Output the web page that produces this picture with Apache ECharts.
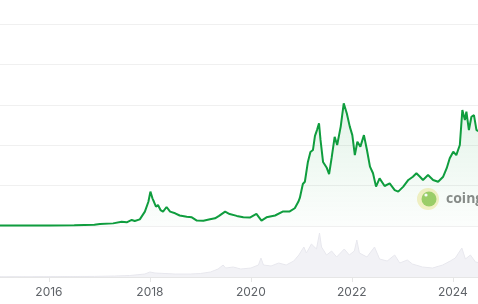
<!DOCTYPE html>
<html>
<head>
<meta charset="utf-8">
<script src="https://cdn.jsdelivr.net/npm/echarts@6/dist/echarts.min.js"></script>
<style>
html,body{margin:0;padding:0;background:#fff;}
#c{width:478px;height:304px;}
</style>
</head>
<body>
<div id="c"></div>
<script>
// x positions as decimal years
var priceYears = [2015.03,2015.5,2016.0,2016.5,2016.9,2017.01,2017.27,2017.44,2017.54,2017.64,2017.70,2017.80,2017.90,2017.97,2018.01,2018.05,2018.08,2018.12,2018.16,2018.21,2018.26,2018.33,2018.40,2018.50,2018.59,2018.73,2018.83,2018.93,2019.06,2019.19,2019.29,2019.37,2019.49,2019.58,2019.72,2019.85,2019.98,2020.11,2020.21,2020.31,2020.48,2020.64,2020.77,2020.87,2020.94,2020.97,2021.03,2021.07,2021.13,2021.18,2021.23,2021.27,2021.31,2021.35,2021.38,2021.43,2021.50,2021.55,2021.60,2021.66,2021.71,2021.78,2021.84,2021.90,2021.96,2022.01,2022.06,2022.11,2022.17,2022.24,2022.30,2022.36,2022.42,2022.48,2022.55,2022.65,2022.75,2022.85,2022.92,2023.02,2023.12,2023.21,2023.28,2023.35,2023.41,2023.51,2023.61,2023.71,2023.81,2023.88,2023.94,2024.01,2024.07,2024.14,2024.19,2024.24,2024.27,2024.32,2024.37,2024.42,2024.47,2024.50,2024.55];
// price values (thousands)
var priceValues = [0.25,0.25,0.3,0.35,0.6,1.0,1.3,2.1,1.8,3.0,2.5,3.3,7.1,12.0,17.0,13.7,12.0,9.6,10.4,7.9,7.1,9.4,7.1,6.3,5.2,4.6,4.3,2.7,2.6,3.3,3.8,5.0,7.1,5.9,5.0,4.3,4.2,6.0,2.7,4.3,5.2,7.2,7.2,8.8,12.0,13.9,20.8,21.9,31.7,36.6,37.6,44.6,47.5,50.8,42.6,31.7,29.0,25.7,33.7,44.1,40.1,49.2,60.7,55.8,49.2,45.0,35.1,41.7,39.3,45.0,37.6,29.4,26.1,19.5,23.6,19.8,21.1,17.8,17.0,19.5,22.8,24.4,26.1,24.4,22.8,25.2,22.8,21.9,24.4,28.6,33.5,36.8,35.1,40.1,57.4,52.5,56.6,47.5,54.1,54.9,47.5,48.4,46.5];
var volYears = [2015.03,2016.0,2016.9,2017.3,2017.6,2017.9,2018.0,2018.1,2018.3,2018.5,2018.8,2019.0,2019.2,2019.35,2019.45,2019.5,2019.65,2019.8,2020.0,2020.15,2020.2,2020.25,2020.4,2020.55,2020.7,2020.85,2020.95,2021.05,2021.1,2021.2,2021.3,2021.36,2021.4,2021.5,2021.6,2021.7,2021.85,2021.95,2022.05,2022.1,2022.15,2022.3,2022.45,2022.55,2022.7,2022.85,2022.95,2023.1,2023.2,2023.4,2023.6,2023.8,2023.95,2024.05,2024.18,2024.25,2024.35,2024.45,2024.55];
var volValues = [0.3,0.4,0.6,1,1.5,3,5,4,3.5,3,3,3.5,5,8,12,9,10,8,9,12,19,12,11,14,12,16,22,30,24,33,28,44,30,22,26,20,28,22,26,37,24,20,30,18,16,22,14,17,13,10,9,12,16,19,29,18,22,15,14];
var tickYears = [2016,2018,2020,2022,2024];
var xMin = 2015.03, xMax = 2024.5;

var chart = echarts.init(document.getElementById('c'));
function pairs(xs, ys){ return xs.map(function(x,i){ return [x, ys[i]]; }); }
chart.setOption({
  animation:false,
  grid:[
    {left:0,right:0,top:24,height:202},
    {left:0,right:0,top:226,height:51}
  ],
  xAxis:[
    {gridIndex:0,type:'value',min:xMin,max:xMax,show:false},
    {gridIndex:1,type:'value',min:xMin,max:xMax,
     axisLine:{lineStyle:{color:'#e6e6e6'}},
     axisTick:{show:true,length:5,lineStyle:{color:'#e6e6e6'},customValues:tickYears},
     axisLabel:{customValues:tickYears,color:'#5f6368',fontSize:12,fontFamily:'Inter',margin:9,formatter:function(v){return String(Math.round(v));}},
     splitLine:{show:false}}
  ],
  yAxis:[
    {gridIndex:0,type:'value',min:0,max:100,interval:20,position:'right',
     axisLabel:{show:false},axisLine:{show:false},axisTick:{show:false},
     splitLine:{lineStyle:{color:'#f0f0f0',width:1}}},
    {gridIndex:1,type:'value',min:0,max:51,show:false,splitLine:{show:false}}
  ],
  series:[
    {type:'line',xAxisIndex:1,yAxisIndex:1,data:pairs(volYears,volValues),symbol:'none',
     lineStyle:{color:'#e8e8ee',width:1},areaStyle:{color:'#f2f2f6',opacity:1}},
    {type:'line',xAxisIndex:0,yAxisIndex:0,data:pairs(priceYears,priceValues),symbol:'none',
     lineStyle:{color:'#0f9d3e',width:2},
     areaStyle:{color:new echarts.graphic.LinearGradient(0,0,0,1,[{offset:0,color:'rgba(15,157,62,0.16)'},{offset:1,color:'rgba(15,157,62,0.02)'}])}}
  ],
  graphic:[
    {type:'circle',shape:{cx:428,cy:199,r:11},style:{fill:'#f6f2c6'}},
    {type:'circle',shape:{cx:429,cy:199,r:7.5},style:{fill:'#9fcf6a'}},
    {type:'circle',shape:{cx:426,cy:195,r:1.6},style:{fill:'#ffffff'}},
    {type:'text',style:{x:446,y:199,text:'coingecko',fill:'#8a8a8a',font:'bold 14px "Open Sans"',textVerticalAlign:'middle'}}
  ]
});
</script>
</body>
</html>
